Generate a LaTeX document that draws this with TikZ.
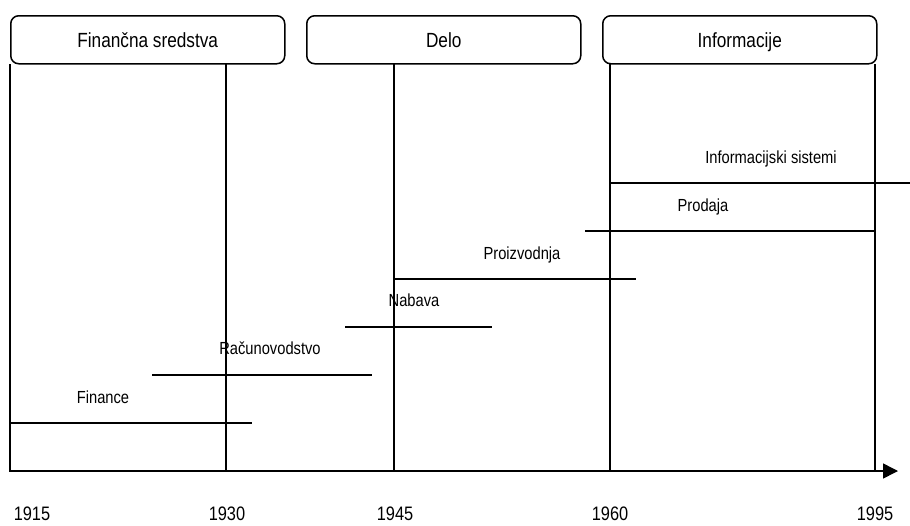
\documentclass[tikz,border=0pt]{standalone}
\usepackage{fontspec}
\setmainfont{Liberation Sans}[FakeStretch=0.84]
\usetikzlibrary{arrows.meta}
\begin{document}
\begin{tikzpicture}[x=1pt,y=-1pt,
  line/.style={line width=1.5pt, line cap=rect},
  area/.style={draw, line width=1.5pt, rounded corners=8pt, minimum width=274pt,
    minimum height=48pt, inner sep=0pt, text height=20pt, text depth=4pt,
    font=\fontsize{20.5}{24}\selectfont, anchor=north west},
  tag/.style={font=\fontsize{17.5}{20}\selectfont, inner sep=0pt, anchor=base},
  year/.style={font=\fontsize{19.5}{22}\selectfont, inner sep=0pt, anchor=base}]
  \useasboundingbox (0,0) rectangle (910,525);

  % category boxes
  \node[area] (fin) at (10,15) {Finančna sredstva};
  \node[area] (delo) at (306,15) {Delo};
  \node[area] (inf) at (602,15) {Informacije};

  % time axis
  \coordinate (a0) at (10,471);
  \coordinate (aEnd) at (898,471);
  \draw[line width=1.5pt, -{Triangle[length=15pt,width=15pt]}] (a0) -- (aEnd);

  % period separators
  \coordinate (t15) at (10,471);
  \coordinate (t30) at (226,471);
  \coordinate (t45) at (394,471);
  \coordinate (t60) at (610,471);
  \coordinate (t95) at (875,471);
  \draw[line] (fin.south west) -- (t15);
  \draw[line] (fin.south -| t30) -- (t30);
  \draw[line] (delo.south -| t45) -- (t45);
  \draw[line] (inf.south -| t60) -- (t60);
  \draw[line] (inf.south -| t95) -- (t95);

  % years
  \node[year] (y15) at (32,520) {1915};
  \node[year] (y30) at (227,520) {1930};
  \node[year] (y45) at (395,520) {1945};
  \node[year] (y60) at (610,520) {1960};
  \node[year] (y95) at (875,520) {1995};

  % functions
  \coordinate (f1) at (10,423);  \coordinate (f2) at (251,423);
  \draw[line] (f1) -- (f2);
  \node[tag] (finance) at (103,403) {Finance};

  \coordinate (r1) at (153,375); \coordinate (r2) at (371,375);
  \draw[line] (r1) -- (r2);
  \node[tag] (racun) at (270,354.5) {Računovodstvo};

  \coordinate (n1) at (346,327); \coordinate (n2) at (491,327);
  \draw[line] (n1) -- (n2);
  \node[tag] (nabava) at (414,306) {Nabava};

  \coordinate (p1) at (394,279); \coordinate (p2) at (635,279);
  \draw[line] (p1) -- (p2);
  \node[tag] (proizv) at (522,259) {Proizvodnja};

  \coordinate (s1) at (586,231); \coordinate (s2) at (875,231);
  \draw[line] (s1) -- (s2);
  \node[tag] (prodaja) at (703,211) {Prodaja};

  \coordinate (i1) at (610,183); \coordinate (i2) at (910,183);
  \draw[line] (i1) -- (i2);
  \node[tag] (infsis) at (771,163) {Informacijski sistemi};
\end{tikzpicture}
\end{document}
